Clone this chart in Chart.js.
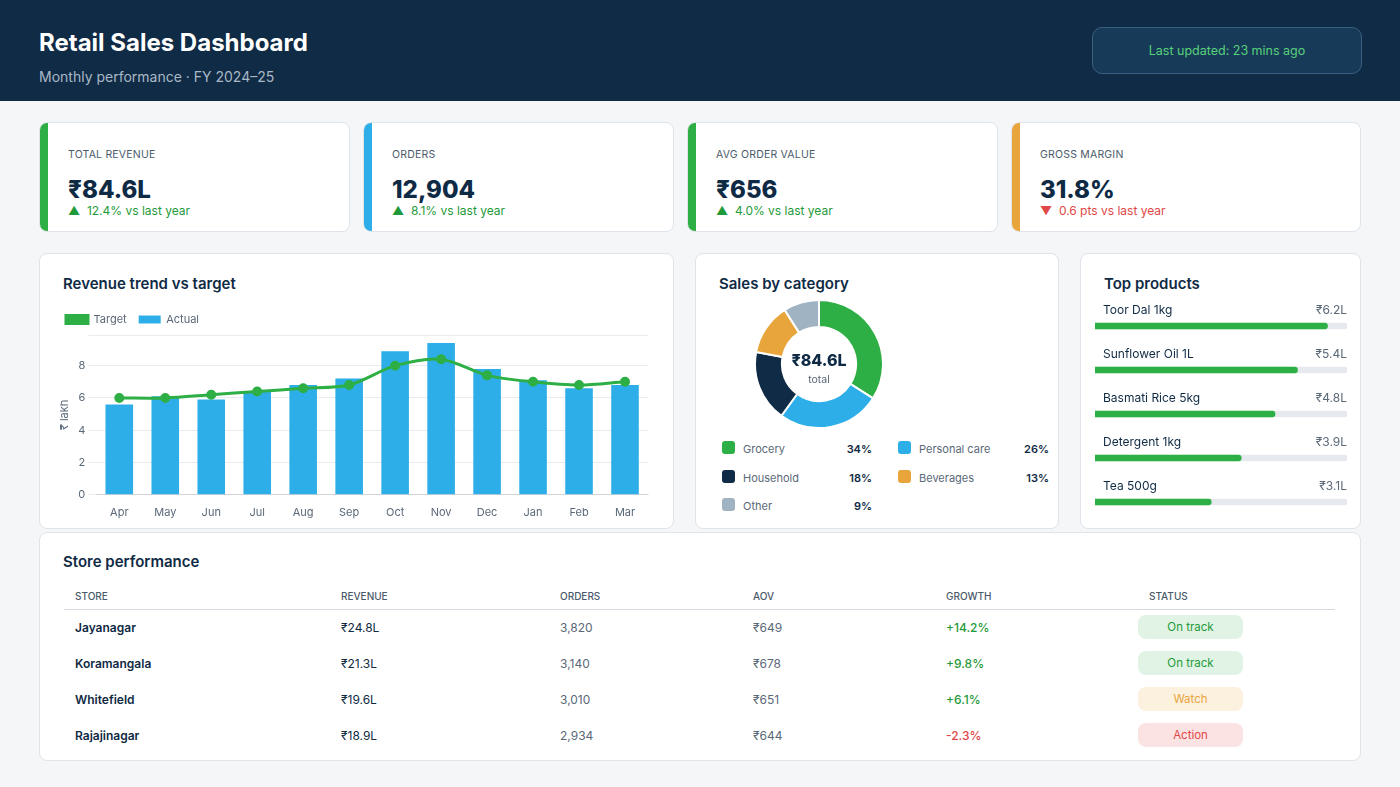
<!DOCTYPE html>
<html><head><meta charset="utf-8">
<script src="https://cdn.jsdelivr.net/npm/chart.js@4"></script>
<style>
*{box-sizing:border-box;margin:0;padding:0}
body{width:1400px;height:787px;background:#f4f6f8;font-family:Inter,"Noto Sans",sans-serif;color:#0f2a44;position:relative;overflow:hidden}
.hdr{position:absolute;left:0;top:0;width:1400px;height:101px;background:#102b45}
.hdr h1{position:absolute;left:39px;top:28px;font-size:24px;font-weight:700;color:#fff}
.hdr .sub{position:absolute;left:39px;top:68px;font-size:14px;color:#a9b8c7}
.upd{position:absolute;left:1092px;top:27px;width:270px;height:47px;border:1px solid #3a5f7f;background:#173a58;border-radius:10px;color:#57d17a;font-size:12.5px;text-align:center;line-height:45px}
.card{position:absolute;background:#fff;border:1px solid #dfe4ea;border-radius:8px}
.kpi{top:122px;height:110px;width:311px;overflow:hidden}
.kpi .bar{position:absolute;left:0;top:0;bottom:0;width:8px}
.kpi .l{position:absolute;left:28px;top:25px;font-size:10.5px;color:#4b5a6a;letter-spacing:.2px}
.kpi .v{position:absolute;left:28px;top:52px;font-size:24px;font-weight:800}
.kpi .d{position:absolute;left:28px;top:80px;font-size:12px;color:#1f9a3a}
.kpi .d.r{color:#e04848}
.ttl{position:absolute;left:23px;top:20px;font-size:15px;font-weight:600;color:#0f2a44}
.leg{position:absolute;font-size:11px;color:#5a6878}
.leg i{position:absolute;left:0;top:-1px;width:13px;height:13px;border-radius:3px}
.leg span{position:absolute;left:21px;top:0}
.leg b{position:absolute;font-weight:600;color:#0f2a44;top:0}
table{position:absolute;left:24px;top:50px;width:1271px;border-collapse:collapse;font-size:12px}
th{font-size:10px;font-weight:500;color:#4b5a6a;text-align:left;height:26px;border-bottom:1px solid #d4dae0;padding-left:11px}
td{height:36px;padding-left:11px;color:#5a6878}
td:first-child{font-weight:600;color:#0f2a44}
.pill{display:inline-block;width:105px;height:24px;border-radius:8px;text-align:center;line-height:24px;font-size:11.5px}
</style></head><body>
<div class="hdr"><h1>Retail Sales Dashboard</h1><div class="sub">Monthly performance · FY 2024–25</div><div class="upd">Last updated: 23 mins ago</div></div>

<div class="card kpi" style="left:39px"><div class="bar" style="background:#2eaf45"></div><div class="l">TOTAL REVENUE</div><div class="v">₹84.6L</div><div class="d">▲ &nbsp;12.4% vs last year</div></div>
<div class="card kpi" style="left:363px"><div class="bar" style="background:#2eaee8"></div><div class="l">ORDERS</div><div class="v">12,904</div><div class="d">▲ &nbsp;8.1% vs last year</div></div>
<div class="card kpi" style="left:687px"><div class="bar" style="background:#2eaf45"></div><div class="l">AVG ORDER VALUE</div><div class="v">₹656</div><div class="d">▲ &nbsp;4.0% vs last year</div></div>
<div class="card kpi" style="left:1011px;width:350px"><div class="bar" style="background:#e8a53c"></div><div class="l">GROSS MARGIN</div><div class="v">31.8%</div><div class="d r">▼ &nbsp;0.6 pts vs last year</div></div>

<div class="card" style="left:39px;top:253px;width:635px;height:276px"><div class="ttl">Revenue trend vs target</div>
<div style="position:absolute;left:14px;top:48px;width:610px;height:220px"><canvas id="c1"></canvas></div></div>

<div class="card" style="left:695px;top:253px;width:364px;height:276px"><div class="ttl">Sales by category</div>
<div style="position:absolute;left:58px;top:45px;width:130px;height:130px"><canvas id="c2"></canvas></div>
<div style="position:absolute;left:58px;top:96px;width:130px;text-align:center;font-size:16px;font-weight:800">₹84.6L</div>
<div style="position:absolute;left:58px;top:119px;width:130px;text-align:center;font-size:10.5px;color:#5a6878">total</div>
<div id="dleg"></div></div>

<div class="card" style="left:1080px;top:253px;width:281px;height:276px"><div class="ttl">Top products</div>
<div style="position:absolute;left:14px;top:50px;width:252px;height:220px"><canvas id="c3"></canvas></div></div>

<div class="card" style="left:39px;top:532px;width:1322px;height:229px"><div class="ttl" style="top:19px">Store performance</div>
<table id="tb"></table></div>

<script>
const months=["Apr","May","Jun","Jul","Aug","Sep","Oct","Nov","Dec","Jan","Feb","Mar"];
const actual=[5.6,6.1,5.9,6.4,6.8,7.2,8.9,9.4,7.8,7.1,6.6,6.8];
const target=[6.0,6.0,6.2,6.4,6.6,6.8,8.0,8.4,7.4,7.0,6.8,7.0];
const categories=["Grocery","Personal care","Household","Beverages","Other"];
const shares=[34,26,18,13,9];
const catColors=["#2eaf45","#2eaee8","#102b45","#e8a53c","#9fb3c3"];
const products=["Toor Dal 1kg","Sunflower Oil 1L","Basmati Rice 5kg","Detergent 1kg","Tea 500g"];
const productSales=[6.2,5.4,4.8,3.9,3.1];
const stores=["Jayanagar","Koramangala","Whitefield","Rajajinagar"];
const storeRevenue=["₹24.8L","₹21.3L","₹19.6L","₹18.9L"];
const storeOrders=["3,820","3,140","3,010","2,934"];
const storeAov=["₹649","₹678","₹651","₹644"];
const storeGrowth=["+14.2%","+9.8%","+6.1%","-2.3%"];
const storeStatus=["On track","On track","Watch","Action"];

Chart.defaults.font.family="Inter, 'Noto Sans', sans-serif";
Chart.defaults.color="#5a6878";
const opts={responsive:true,maintainAspectRatio:false,animation:false};

new Chart(c1,{data:{labels:months,datasets:[
 {type:"line",label:"Target",data:target,borderColor:"#2eaf45",backgroundColor:"#2eaf45",borderWidth:3,pointRadius:3.5,tension:0.3,order:0},
 {type:"bar",label:"Actual",data:actual,backgroundColor:"#2eaee8",categoryPercentage:0.8,barPercentage:0.75,order:1}]},
 options:{...opts,layout:{padding:{right:16}},plugins:{legend:{position:"top",align:"start",labels:{boxWidth:22,boxHeight:8,font:{size:11},padding:12,
  generateLabels:c=>Chart.defaults.plugins.legend.labels.generateLabels(c).map(l=>l)}}},
 scales:{x:{grid:{display:false},ticks:{font:{size:11}}},
  y:{min:0,max:9.9,title:{display:true,text:"₹ lakh",font:{size:11}},border:{display:false},grid:{color:"#e8ecf0"},
   ticks:{stepSize:2,font:{size:11},callback:v=>v%2===0?v:""}}}}});

new Chart(c2,{type:"doughnut",data:{labels:categories,datasets:[{data:shares,backgroundColor:catColors,borderColor:"#fff",borderWidth:2}]},
 options:{...opts,cutout:"58%",plugins:{legend:{display:false},tooltip:{enabled:false}}}});

const dl=document.getElementById("dleg");
categories.forEach((c,i)=>{const col=i%2,row=Math.floor(i/2);
 dl.innerHTML+=`<div class="leg" style="left:${26+col*176}px;top:${188+row*28.5}px;width:150px"><i style="background:${catColors[i]}"></i><span>${c}</span><b style="right:${col?-1:0}px">${shares[i]}%</b></div>`;});

const prodMax=6.72;
new Chart(c3,{type:"bar",data:{labels:products,datasets:[
 {data:productSales,backgroundColor:"#2eaf45",borderRadius:4,barThickness:6,grouped:false,order:0},
 {data:products.map(()=>prodMax),backgroundColor:"#e6eaee",borderRadius:4,barThickness:6,grouped:false,order:1}]},
 options:{...opts,indexAxis:"y",layout:{padding:{top:0,bottom:0}},plugins:{legend:{display:false},tooltip:{enabled:false}},
 scales:{x:{display:false,min:0,max:prodMax},y:{display:false,afterFit:s=>{}}}},
 plugins:[{id:"lbl",afterDraw(ch){const{ctx,scales:{y,x}}=ch;ctx.save();ctx.font="12px Inter, sans-serif";
  products.forEach((p,i)=>{const yy=y.getPixelForValue(i)-12;ctx.fillStyle="#0f2a44";ctx.textAlign="left";ctx.fillText(p,x.left+8,yy);
   ctx.fillStyle="#5a6878";ctx.textAlign="right";ctx.fillText("₹"+productSales[i]+"L",x.right,yy);});ctx.restore();}}]});

const pst={"On track":["#e0f3e5","#1f9a3a"],"Watch":["#fcf0de","#e8a53c"],"Action":["#fbe3e3","#e04848"]};
let h="<tr><th style='width:266px'>STORE</th><th style='width:219px'>REVENUE</th><th style='width:193px'>ORDERS</th><th style='width:193px'>AOV</th><th style='width:203px'>GROWTH</th><th>STATUS</th></tr>";
stores.forEach((s,i)=>{const g=storeGrowth[i].startsWith("-")?"#e04848":"#1f9a3a";const p=pst[storeStatus[i]];
 h+=`<tr><td>${s}</td><td style="color:#0f2a44">${storeRevenue[i]}</td><td>${storeOrders[i]}</td><td>${storeAov[i]}</td><td style="color:${g};font-weight:500">${storeGrowth[i]}</td><td style="padding-left:0"><span class="pill" style="background:${p[0]};color:${p[1]}">${storeStatus[i]}</span></td></tr>`;});
document.getElementById("tb").innerHTML=h;
</script></body></html>
